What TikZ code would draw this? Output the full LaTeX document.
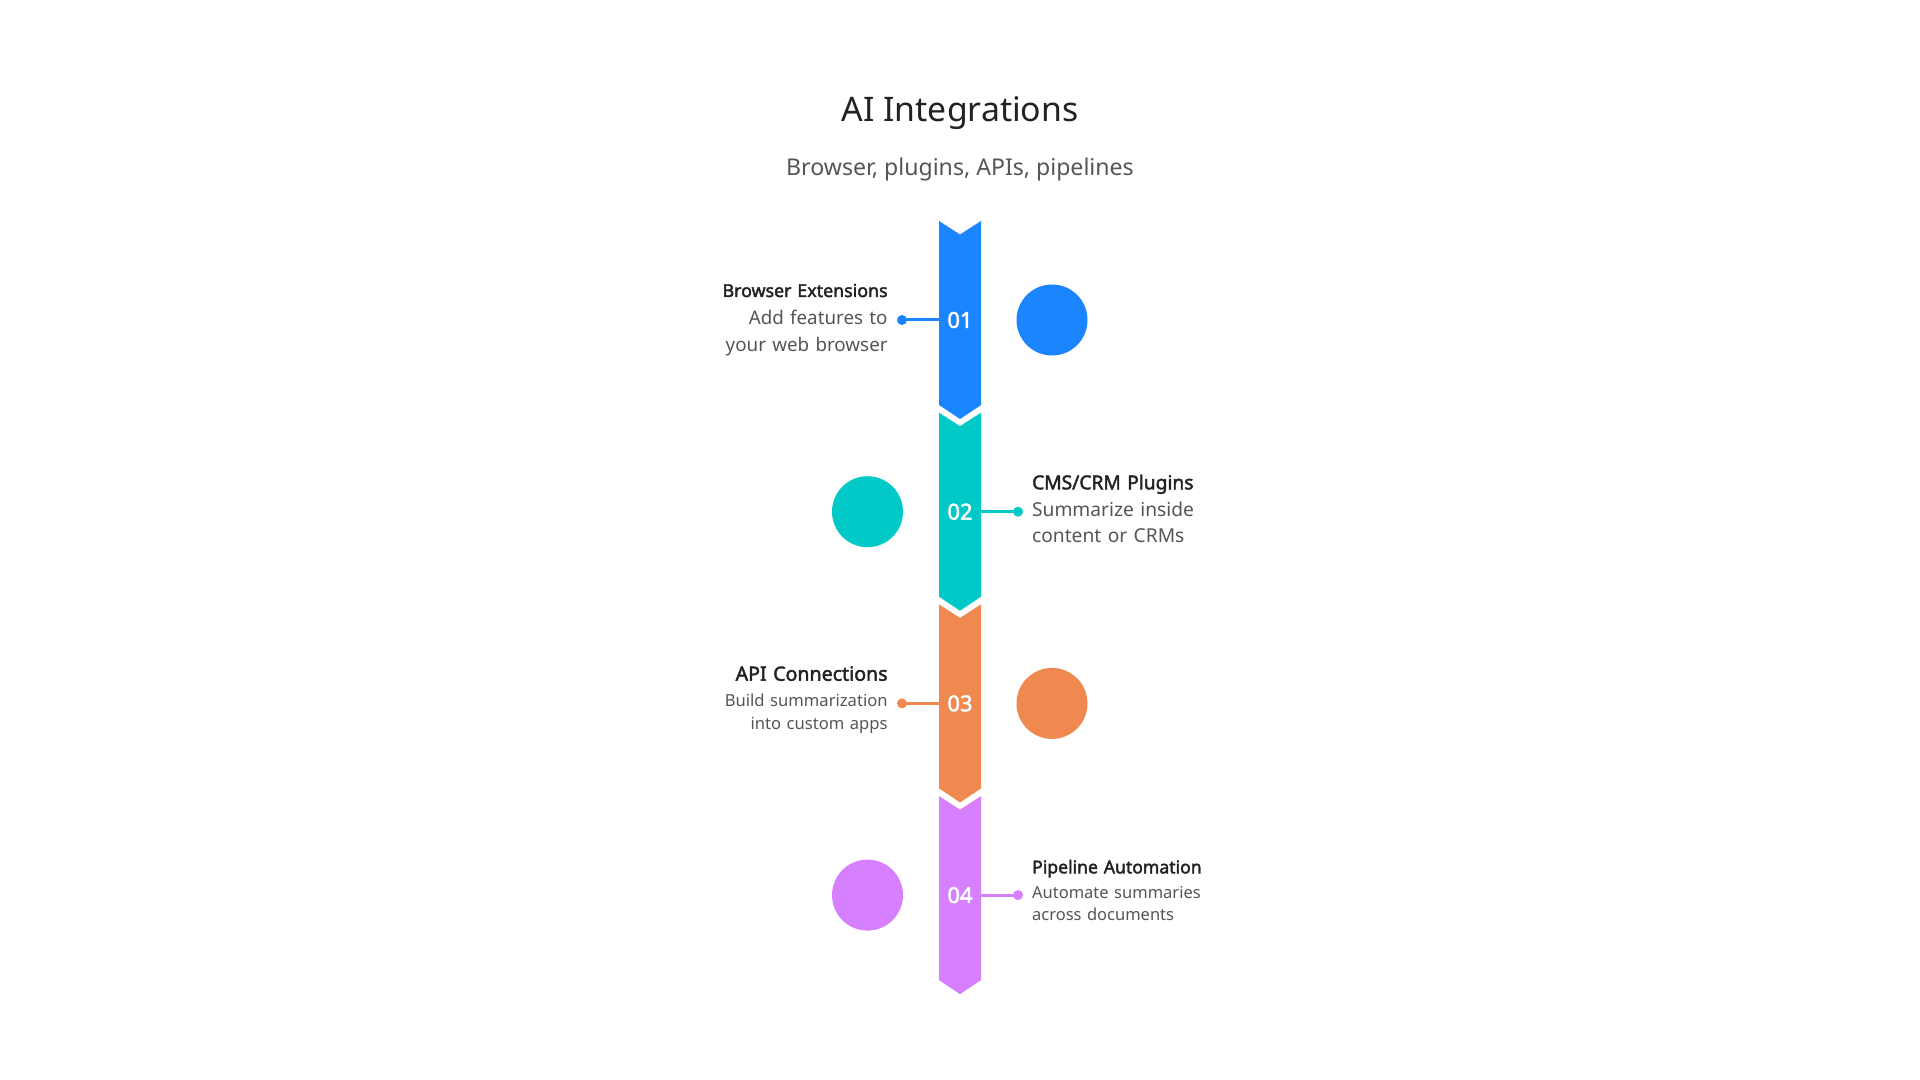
\documentclass[tikz,border=0pt]{standalone}
\usepackage{fontspec}
\setmainfont{Noto Sans}
\IfFontExistsTF{Noto Sans Bold}{\newfontfamily\hd{Noto Sans Bold}}{\newfontfamily\hd{Noto Sans}[FakeBold=2.2]}
\definecolor{cblue}{RGB}{27,133,255}
\definecolor{cteal}{RGB}{0,201,200}
\definecolor{corange}{RGB}{240,137,79}
\definecolor{cpurple}{RGB}{214,128,255}
\definecolor{darktext}{RGB}{34,34,34}
\definecolor{greytext}{RGB}{85,85,85}
\begin{document}
\begin{tikzpicture}[x=0.5pt,y=-0.5pt,
  numlabel/.style={inner sep=0pt,minimum width=21pt,minimum height=10pt,text=white,font=\hd\fontsize{11pt}{12pt}\selectfont},
  bigdot/.style={circle,fill=#1,minimum size=35.5pt,inner sep=0pt},
  smalldot/.style={circle,fill=#1,minimum size=5pt,inner sep=0pt},
  link/.style={draw=#1,line width=1.5pt},
  headL/.style={anchor=base east,inner sep=0pt,text width=110pt,align=right,text=darktext},
  headR/.style={anchor=base west,inner sep=0pt,text width=110pt,align=left,text=darktext},
  descL/.style={anchor=base east,inner sep=0pt,text width=110pt,align=right,text=greytext},
  descR/.style={anchor=base west,inner sep=0pt,text width=110pt,align=left,text=greytext}
]
\useasboundingbox[fill=white] (0,0) rectangle (1920,1080);

% title
\node[anchor=base,inner sep=0pt,text=darktext,font=\fontsize{16.9pt}{20pt}\selectfont] (title) at (960,121.7) {AI Integrations};
\node[anchor=base,inner sep=0pt,text=greytext,font=\fontsize{11.55pt}{14pt}\selectfont] (subtitle) at (960,176) {Browser, plugins, APIs, pipelines};

% chevron segments
\foreach \t/\c in {221/cblue,412.7/cteal,604.4/corange,796.1/cpurple}{
  \fill[\c] (939,\t) -- (960,\t+13.5) -- (981,\t) -- (981,\t+184) -- (960,\t+198) -- (939,\t+184) -- cycle;
}

% step 1
\node[numlabel] (n1) at (960,320) {01};
\node[bigdot=cblue] (c1) at (1052,320) {};
\node[smalldot=cblue] (d1) at (902,320) {};
\draw[link=cblue] (n1.west) -- (d1.center);
\node[headL,font=\hd\fontsize{8.9pt}{10pt}\selectfont] (h1) at (888,297) {Browser Extensions};
\node[descL,font=\fontsize{9.4pt}{13.4pt}\selectfont] (t1) at (888,324.3) {Add features to\\your web browser};

% step 2
\node[numlabel] (n2) at (960,511.7) {02};
\node[bigdot=cteal] (c2) at (867.5,511.7) {};
\node[smalldot=cteal] (d2) at (1018,511.7) {};
\draw[link=cteal] (n2.east) -- (d2.center);
\node[headR,font=\hd\fontsize{9.6pt}{10pt}\selectfont] (h2) at (1031.7,489.3) {CMS/CRM Plugins};
\node[descR,font=\fontsize{9.6pt}{13pt}\selectfont] (t2) at (1031.7,516.7) {Summarize inside\\content or CRMs};

% step 3
\node[numlabel] (n3) at (960,703.4) {03};
\node[bigdot=corange] (c3) at (1052,703.4) {};
\node[smalldot=corange] (d3) at (902,703.4) {};
\draw[link=corange] (n3.west) -- (d3.center);
\node[headL,font=\hd\fontsize{9.8pt}{10pt}\selectfont] (h3) at (888,680.7) {API Connections};
\node[descL,font=\fontsize{8.3pt}{11.65pt}\selectfont] (t3) at (888,706) {Build summarization\\into custom apps};

% step 4
\node[numlabel] (n4) at (960,895.1) {04};
\node[bigdot=cpurple] (c4) at (867.5,895.1) {};
\node[smalldot=cpurple] (d4) at (1018,895.1) {};
\draw[link=cpurple] (n4.east) -- (d4.center);
\node[headR,font=\hd\fontsize{8.8pt}{10pt}\selectfont] (h4) at (1031.7,873.3) {Pipeline Automation};
\node[descR,font=\fontsize{8.25pt}{11.2pt}\selectfont] (t4) at (1031.7,898.3) {Automate summaries\\across documents};
\end{tikzpicture}
\end{document}
